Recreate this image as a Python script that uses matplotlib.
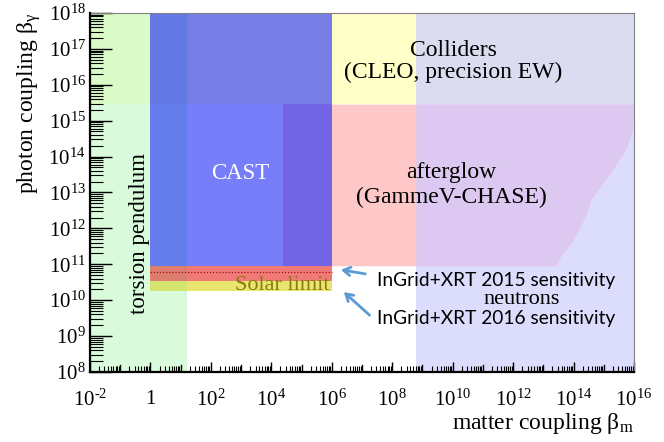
import numpy as np
import matplotlib.pyplot as plt
from matplotlib.ticker import LogLocator, NullFormatter, FixedLocator, FixedFormatter

plt.rcParams['font.family'] = ['Liberation Serif', 'DejaVu Serif']
plt.rcParams['mathtext.fontset'] = 'custom'
plt.rcParams['mathtext.rm'] = 'Liberation Serif'
plt.rcParams['mathtext.it'] = 'Liberation Serif:italic'

# region bounds, log10 units
x_range = [-2, 16]
y_range = [8, 18]
torsion_x = [-2, 1.2]
collider_y = [15.46, 18]
cast_x = [0, 6]
cast_y = [10.96, 18]
afterglow_x0 = 4.38
neutron_x = [8.78, 16]
ingrid2015_band = [10.53, 10.96]
ingrid2015_line = 10.79
solar_band = [10.26, 10.53]
# jagged right edge of afterglow exclusion
edge_y = [15.46, 14.74, 14.18, 13.43, 12.79, 12.33, 11.68, 11.21, 10.96]
edge_x = [16.0, 15.94, 15.72, 15.11, 14.56, 14.39, 13.99, 13.56, 13.4]

x_ticks = list(range(-2, 17, 2))
x_labels = [r'$\mathrm{10^{\text{-}2}}$', '1'] + [r'$\mathrm{10^{%d}}$' % k for k in x_ticks[2:]]
y_ticks = list(range(8, 19))
y_labels = [r'$\mathrm{10^{%d}}$' % k for k in y_ticks]

fig = plt.figure(figsize=(6.64, 4.42), dpi=100)
ax = fig.add_axes([0.1355, 0.1584, 0.8193, 0.8122])
ax.set_xscale('log')
ax.set_yscale('log')

def box(xs, ys, color):
    ax.fill_between([10.0**xs[0], 10.0**xs[1]], 10.0**ys[0], 10.0**ys[1],
                    color=color, lw=0, zorder=1)

low_y = [y_range[0], collider_y[0]]
box(torsion_x, low_y, '#dafadc')
box(x_range, collider_y, '#ffffc8')
box(torsion_x, collider_y, '#dafac8')
box(neutron_x, low_y, '#dcdcfc')
box(neutron_x, collider_y, '#dcdcf0')

ey = 10.0**np.array(edge_y)
ex = 10.0**np.array(edge_x)
ax.fill_betweenx(ey, 10.0**afterglow_x0, ex, color='#ffc8c8', lw=0, zorder=1)
ax.fill_betweenx(ey, 10.0**neutron_x[0], ex, color='#dcc8f0', lw=0, zorder=1)

cast_low = [cast_y[0], collider_y[0]]
box(cast_x, cast_low, '#787dfa')
box([cast_x[0], torsion_x[1]], cast_low, '#647deb')
box([afterglow_x0, cast_x[1]], cast_low, '#7364e6')
box(cast_x, collider_y, '#787de6')
box([cast_x[0], torsion_x[1]], collider_y, '#6478e6')

box(cast_x, ingrid2015_band, '#f07a78')
box([cast_x[0], torsion_x[1]], ingrid2015_band, '#dc7d70')
box(cast_x, solar_band, '#e8e66e')
box([cast_x[0], torsion_x[1]], solar_band, '#d4e670')
ax.plot([10.0**cast_x[0], 10.0**cast_x[1]], [10.0**ingrid2015_line] * 2,
        ls=(0, (1, 1.5)), color='#a01010', lw=0.9, zorder=2)

ax.set_xlim(10.0**x_range[0], 10.0**x_range[1])
ax.set_ylim(10.0**y_range[0], 10.0**y_range[1])

ax.xaxis.set_minor_locator(LogLocator(base=10, subs=np.arange(2, 10), numticks=30))
ax.xaxis.set_minor_formatter(NullFormatter())
ax.set_xticks([10.0**k for k in x_ticks], minor=False)
ax.set_xticklabels(x_labels)
ax.yaxis.set_major_locator(FixedLocator([10.0**k for k in y_ticks]))
ax.yaxis.set_major_formatter(FixedFormatter(y_labels))
ax.yaxis.set_minor_locator(LogLocator(base=10, subs=np.arange(2, 10), numticks=30))
ax.yaxis.set_minor_formatter(NullFormatter())

# decade ticks on x without labels
for k in range(-1, 16, 2):
    ax.axvline(10.0**k, ymin=0, ymax=0.02, color='black', lw=1, zorder=5)

ax.tick_params(axis='x', which='major', direction='in', length=7, width=1,
               labelsize=15, pad=13)
ax.tick_params(axis='x', which='minor', direction='in', length=4, width=0.8)
ax.tick_params(axis='y', which='major', direction='in', length=16, width=1,
               labelsize=15, pad=3)
ax.tick_params(axis='y', which='minor', direction='in', length=9, width=0.8)

for s in ['left', 'bottom']:
    ax.spines[s].set_linewidth(1.6)
    ax.spines[s].set_zorder(6)
for s in ['top', 'right']:
    ax.spines[s].set_linewidth(0.8)
    ax.spines[s].set_color('#808080')

ax.set_xlabel(r'matter coupling β$_{\mathrm{m}}$', fontsize=17, loc='right', labelpad=0)
ax.set_ylabel(r'photon coupling β$_{\mathrm{γ}}$', fontsize=17, loc='top', labelpad=4)

def P(lx, ly):
    return 10.0**lx, 10.0**ly

ax.text(*P(10.01, 16.65), 'Colliders\n(CLEO, precision EW)', fontsize=17,
        ha='center', va='center', linespacing=1.1, zorder=4)
ax.text(*P(2.96, 13.54), 'CAST', fontsize=16.5, color='white',
        ha='center', va='center', zorder=4)
ax.text(*P(9.95, 13.2), 'afterglow\n(GammeV-CHASE)', fontsize=17,
        ha='center', va='center', linespacing=1.25, zorder=4)
ax.text(*P(-0.35, 11.87), 'torsion pendulum', fontsize=16.5, rotation=90,
        ha='center', va='center', zorder=4)
ax.text(*P(5.94, 10.28), 'Solar limit', fontsize=16, color='#8a7a10',
        ha='right', va='baseline', zorder=4)

sans = ['Lato', 'DejaVu Sans']
ax.text(*P(7.5, 10.55), 'InGrid+XRT 2015 sensitivity', family=sans, fontsize=13.8,
        ha='left', va='center', zorder=4)
ax.text(*P(12.28, 10.03), 'neutrons', fontsize=16, ha='center', va='center', zorder=4)
ax.text(*P(7.5, 9.5), 'InGrid+XRT 2016 sensitivity', family=sans, fontsize=13.8,
        ha='left', va='center', zorder=4)

arrow = dict(arrowstyle='->,head_length=0.5,head_width=0.3', color='#5b9bd5', lw=2)
ax.annotate('', xy=P(6.21, 10.86), xytext=P(7.2, 10.72), arrowprops=arrow, zorder=4)
ax.annotate('', xy=P(6.33, 10.28), xytext=P(7.32, 9.53), arrowprops=arrow, zorder=4)

fig.savefig('out.png', dpi=100)
